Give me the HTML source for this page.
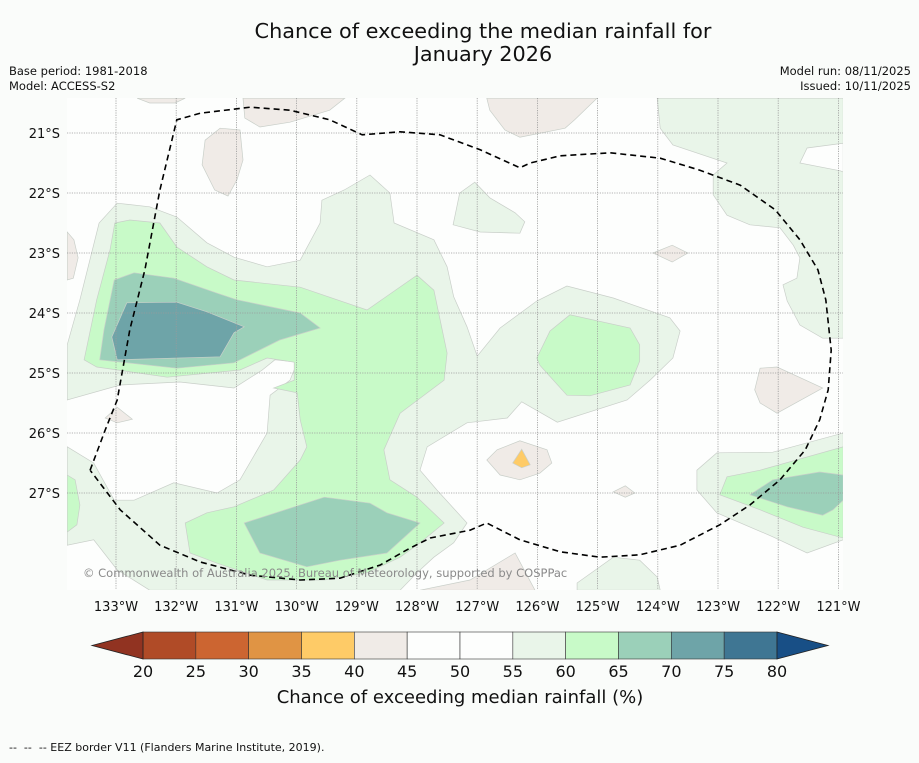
<!DOCTYPE html>
<html><head><meta charset="utf-8">
<style>
html,body{margin:0;padding:0;background:#fafcfa;}
body{width:919px;height:758px;overflow:hidden;font-family:"Liberation Sans","DejaVu Sans",sans-serif;}
svg text{font-family:"DejaVu Sans","Liberation Sans",sans-serif;}
</style></head>
<body>
<svg id="chart" width="919" height="758" viewBox="0 0 919 758" xmlns="http://www.w3.org/2000/svg">
  <rect x="0" y="0" width="919" height="758" fill="#fafcfa"/>
  <text x="483" y="38" font-size="20.8" text-anchor="middle" fill="#111">Chance of exceeding the median rainfall for</text>
  <text x="483" y="61" font-size="20.8" text-anchor="middle" fill="#111">January 2026</text>
  <text x="9" y="75" font-size="11.5" fill="#111">Base period: 1981-2018</text>
  <text x="9" y="90" font-size="11.5" fill="#111">Model: ACCESS-S2</text>
  <text x="911" y="75" font-size="11.5" fill="#111" text-anchor="end">Model run: 08/11/2025</text>
  <text x="911" y="90" font-size="11.5" fill="#111" text-anchor="end">Issued: 10/11/2025</text>
  <defs><clipPath id="mapclip"><rect x="67" y="98" width="776" height="492"/></clipPath></defs>
  <rect x="67" y="98" width="776" height="492" fill="#fdfefd"/>
  <g id="layers" clip-path="url(#mapclip)"></g>
  <g id="grid"></g>
  <g id="eez" clip-path="url(#mapclip)"></g>
  <text x="83" y="577" font-size="11.5" fill="#8a8a8a">© Commonwealth of Australia 2025, Bureau of Meteorology, supported by COSPPac</text>
  <g id="ticks"></g>
  <g id="cbar"></g>
  <text x="460" y="703" font-size="18" text-anchor="middle" fill="#111">Chance of exceeding median rainfall (%)</text>
  <text x="9" y="751" font-size="11" fill="#111">--&#160;&#160;--&#160;&#160;-- EEZ border V11 (Flanders Marine Institute, 2019).</text>
</svg>
<script>
// ---- data ----
const latTicks = [21,22,23,24,25,26,27];
const lonTicks = [133,132,131,130,129,128,127,126,125,124,123,122,121];
const cbarLevels = [20,25,30,35,40,45,50,55,60,65,70,75,80];
const cbarColors = ["#b04b27","#cc6531","#e09444","#fecb67","#f0ebe7","#fdfefd","#fdfefd","#e9f5e9","#c8fac8","#9bd0b9","#6ea4a8","#3f7693"];
const cbarUnder = "#913321";
const cbarOver = "#184f86";
const lightGreenA = [[133.81,24.53],[133.6,23.78],[133.28,22.5],[132.98,22.17],[132.44,22.23],[131.99,22.4],[131.49,22.83],[131.04,23.07],[130.49,23.23],[129.94,23.12],[129.61,22.5],[129.58,22.12],[129.21,21.95],[128.78,21.7],[128.45,22],[128.38,22.5],[127.72,22.78],[127.5,23.23],[127.39,23.73],[127.17,24.23],[127.0,24.72],[126.62,24.25],[126.01,23.8],[125.51,23.55],[124.74,23.75],[123.8,24.08],[123.63,24.3],[123.75,24.75],[124.13,25.12],[124.51,25.45],[125.67,25.82],[126.26,25.48],[126.5,25.75],[127.17,25.83],[127.83,26.23],[127.95,26.62],[127.67,26.95],[127.17,27.5],[127.39,27.83],[127.72,28.07],[128.0,28.33],[128.28,28.62],[132.44,28.62],[132.98,28.28],[133.37,27.78],[133.81,27.87],[133.81,26.23],[133.37,26.5],[133.03,27.12],[132.7,27.12],[132.04,26.83],[131.32,27],[130.94,26.78],[130.49,26],[130.44,25.37],[130.11,25.12],[129.99,24.82],[130.36,24.78],[130.57,24.95],[131.04,25.25],[131.94,25.15],[132.93,25.2],[133.81,25.45]];
const lightGreenB = [[124.01,20.42],[123.96,20.92],[123.75,21.2],[122.85,21.5],[123.08,21.7],[123.08,22.03],[122.85,22.37],[122.47,22.53],[121.97,22.58],[121.75,22.87],[121.64,23.08],[121.69,23.42],[121.92,23.53],[121.85,23.8],[121.64,24.2],[121.26,24.42],[120.92,24.42],[120.92,20.42]];
const whiteHoleB = [[121.64,21.5],[121.52,21.25],[120.92,21.17],[120.92,21.65],[120.97,21.63]];
const lightGreenC = [[127.29,22],[127.04,21.82],[126.79,22.08],[126.37,22.33],[126.21,22.48],[126.29,22.67],[126.95,22.65],[127.4,22.53]];
const lightGreenD = [[123.35,26.62],[123.02,26.33],[122.09,26.32],[120.92,26.0],[120.92,27.78],[121.52,28.0],[122.09,27.73],[123.02,27.33],[123.35,26.95]];
const lightGreenE = [[125.34,28.5],[124.74,28.07],[124.3,28.12],[124.01,28.4],[123.96,28.62],[125.34,28.62]];
const greenWest = [[133.02,22.5],[132.77,22.45],[132.27,22.5],[131.99,22.9],[131.49,23.23],[131.04,23.45],[129.94,23.57],[128.83,23.95],[128.0,23.37],[127.72,23.62],[127.5,24.67],[127.55,25.12],[128.28,25.67],[128.55,26.28],[128.45,26.78],[128.0,27.07],[127.55,27.5],[127.95,27.83],[128.28,28.07],[128.83,28.33],[129.54,28.45],[130.49,28.45],[131.32,28.17],[131.77,28.0],[131.85,27.5],[131.49,27.33],[131.04,27.23],[130.38,26.95],[129.94,26.45],[129.83,26.23],[129.94,25.78],[129.99,25.33],[130.38,25.25],[130.04,25.12],[130.04,24.82],[130.49,24.75],[130.94,24.95],[132.15,25.07],[133.32,24.9],[133.53,24.78],[133.32,23.78],[133.1,22.95]];
const greenEast = [[126.01,24.75],[125.79,24.3],[125.46,24.03],[124.46,24.25],[124.3,24.53],[124.3,24.8],[124.46,25.2],[125.13,25.38],[125.51,25.37],[125.96,24.87]];
const greenSE = [[122.97,27.03],[122.85,26.73],[122.3,26.62],[120.92,26.23],[120.92,27.75],[121.59,27.57],[122.3,27.28]];
const greenEdge = [[133.81,26.7],[133.68,26.78],[133.6,27.2],[133.65,27.53],[133.81,27.65]];
const tealWest = [[133.03,23.45],[132.7,23.33],[132.04,23.42],[131.32,23.67],[130.99,23.78],[129.94,24.0],[129.61,24.25],[130.28,24.45],[131.04,24.83],[131.99,24.92],[133.27,24.78],[133.2,24.28]];
const tealSouth = [[130.87,27.5],[129.54,27.07],[128.78,27.17],[128.5,27.33],[127.95,27.5],[128.5,28.0],[129.28,28.12],[129.83,28.23],[130.61,28.0]];
const tealSE = [[122.47,27.03],[122.09,26.78],[121.31,26.65],[120.92,26.7],[120.92,27.12],[121.09,27.28],[121.26,27.37],[121.85,27.23]];
const deepTealWest = [[132.82,23.83],[131.99,23.82],[131.49,23.98],[130.87,24.23],[131.04,24.33],[131.27,24.73],[132.98,24.78],[133.07,24.4]];
const brown1 = [[132.65,20.42],[131.85,20.42],[132.02,20.5],[132.44,20.5]];
const brown2 = [[130.89,20.42],[129.2,20.42],[129.45,20.62],[130.11,20.82],[130.61,20.9],[130.86,20.75]];
const brown3 = [[131.52,21.12],[131.27,20.92],[130.94,20.95],[130.89,21.45],[130.99,21.78],[131.14,22.05],[131.36,21.95],[131.57,21.53]];
const brown4 = [[133.81,22.65],[133.7,22.78],[133.63,23.08],[133.71,23.42],[133.81,23.45]];
const brown5 = [[126.84,20.42],[125.01,20.42],[125.38,20.78],[125.54,20.92],[126.29,21.07],[126.54,20.95],[126.79,20.62]];
const brown6 = [[124.08,23.0],[123.76,22.87],[123.5,23.0],[123.76,23.15]];
const brown7 = [[122.3,24.92],[122.02,24.9],[121.26,25.25],[122.02,25.67],[122.3,25.5],[122.39,25.28]];
const brown8 = [[126.84,26.45],[126.67,26.28],[126.29,26.13],[125.84,26.28],[125.76,26.5],[125.96,26.67],[126.29,26.78],[126.62,26.7]];
const brown9 = [[124.74,26.98],[124.54,26.88],[124.38,27.0],[124.54,27.07]];
const brown10 = [[133.18,25.75],[132.98,25.57],[132.73,25.77],[132.98,25.83]];
const brown11 = [[127.95,28.62],[127.12,28.45],[126.37,28.0],[126.04,28.62]];
const orange1 = [[126.41,26.5],[126.26,26.27],[126.12,26.53],[126.26,26.58]];
const eezLine = [[133.43,26.62],[133.18,25.95],[132.98,25.45],[132.77,24.28],[132.52,23.28],[132.27,21.95],[131.99,20.78],[131.6,20.67],[130.77,20.57],[130.11,20.62],[129.45,20.78],[128.91,21.03],[128.28,20.98],[127.62,21.03],[126.95,21.28],[126.29,21.58],[126.12,21.5],[125.62,21.38],[124.79,21.33],[123.96,21.42],[123.3,21.62],[122.63,21.87],[122.05,22.28],[121.64,22.78],[121.34,23.28],[121.21,23.78],[121.12,24.62],[121.17,25.28],[121.31,25.78],[121.55,26.28],[121.97,26.78],[122.47,27.2],[122.97,27.53],[123.63,27.87],[124.3,28.03],[124.96,28.07],[125.62,27.98],[126.29,27.78],[126.84,27.5],[127.12,27.62],[127.78,27.75],[128.12,27.92],[128.61,28.2],[129.28,28.42],[129.94,28.45],[130.77,28.37],[131.6,28.15],[132.27,27.87],[132.93,27.28],[133.43,26.62]];

// ---- axes ----
const NS = "http://www.w3.org/2000/svg";
function xLon(lonW){ return 116 + (133 - lonW) * 60.2; }
function yLat(latS){ return 133 + (latS - 21) * 60; }
function xCbar(v){ return 143 + (v - 20) / 60 * 634; }
function pts(poly){ return poly.map(p => xLon(p[0]).toFixed(1) + "," + yLat(p[1]).toFixed(1)).join(" "); }
function mk(tag, attrs, parent){ const e = document.createElementNS(NS, tag); for (const k in attrs) e.setAttribute(k, attrs[k]); parent.appendChild(e); return e; }

const layers = document.getElementById("layers");
const shapes = [
  [lightGreenA, 7, "contour-55-60-west"], [lightGreenB, 7, "contour-55-60-northeast"], [whiteHoleB, 5, "contour-50-55-northeast"],
  [lightGreenC, 7, "contour-55-60-north"], [lightGreenD, 7, "contour-55-60-southeast"], [lightGreenE, 7, "contour-55-60-south"],
  [greenWest, 8, "contour-60-65-west"], [greenEast, 8, "contour-60-65-east"], [greenSE, 8, "contour-60-65-southeast"], [greenEdge, 8, "contour-60-65-edge"],
  [tealWest, 9, "contour-65-70-west"], [tealSouth, 9, "contour-65-70-south"], [tealSE, 9, "contour-65-70-southeast"],
  [deepTealWest, 10, "contour-70-75-west"],
  [brown1, 4, "contour-40-45-a"], [brown2, 4, "contour-40-45-b"], [brown3, 4, "contour-40-45-c"], [brown4, 4, "contour-40-45-d"],
  [brown5, 4, "contour-40-45-e"], [brown6, 4, "contour-40-45-f"], [brown7, 4, "contour-40-45-g"], [brown8, 4, "contour-40-45-h"],
  [brown9, 4, "contour-40-45-i"], [brown10, 4, "contour-40-45-j"], [brown11, 4, "contour-40-45-k"],
  [orange1, 3, "contour-35-40"]
];
shapes.forEach(s => {
  const el = mk("polygon", {points: pts(s[0]), fill: cbarColors[s[1]], stroke: "#c9cfc9", "stroke-width": "0.7"}, layers);
  
  
});

const grid = document.getElementById("grid");
const ticks = document.getElementById("ticks");
latTicks.forEach(v => {
  const y = yLat(v);
  const l = mk("line", {x1: 67, x2: 843, y1: y, y2: y, stroke: "#9a9a9a", "stroke-width": "0.8", "stroke-dasharray": "1.2,1.2"}, grid);
  
  
  const t = mk("text", {x: 60, y: y + 5, "font-size": "13", "text-anchor": "end", fill: "#111"}, ticks);
  t.textContent = v + "°S";
  
  
});
lonTicks.forEach(v => {
  const x = xLon(v);
  const l = mk("line", {x1: x, x2: x, y1: 98, y2: 590, stroke: "#9a9a9a", "stroke-width": "0.8", "stroke-dasharray": "1.2,1.2"}, grid);
  
  
  const t = mk("text", {x: x, y: 611, "font-size": "13", "text-anchor": "middle", fill: "#111"}, ticks);
  t.textContent = v + "°W";
  
  
});

const eez = document.getElementById("eez");
const eezEl = mk("polyline", {points: pts(eezLine), fill: "none", stroke: "#000", "stroke-width": "1.6", "stroke-dasharray": "6,4"}, eez);



const cb = document.getElementById("cbar");
const y0 = 632, y1 = 659;
for (let i = 0; i < cbarColors.length; i++) {
  const xa = xCbar(cbarLevels[i]), xb = xCbar(cbarLevels[i + 1]);
  const r = mk("rect", {x: xa, y: y0, width: xb - xa, height: y1 - y0, fill: cbarColors[i], stroke: "#333", "stroke-width": "0.6"}, cb);
  
  
}
const lo = xCbar(cbarLevels[0]), hi = xCbar(cbarLevels[cbarLevels.length - 1]);
const under = mk("polygon", {points: lo + "," + y0 + " " + (lo - 51) + "," + ((y0 + y1) / 2) + " " + lo + "," + y1, fill: cbarUnder, stroke: "#222", "stroke-width": "0.8"}, cb);


const over = mk("polygon", {points: hi + "," + y0 + " " + (hi + 51) + "," + ((y0 + y1) / 2) + " " + hi + "," + y1, fill: cbarOver, stroke: "#222", "stroke-width": "0.8"}, cb);


cbarLevels.forEach(v => {
  const t = mk("text", {x: xCbar(v), y: 677, "font-size": "16", "text-anchor": "middle", fill: "#111"}, cb);
  t.textContent = v;
  
  
});
</script>
</body></html>
